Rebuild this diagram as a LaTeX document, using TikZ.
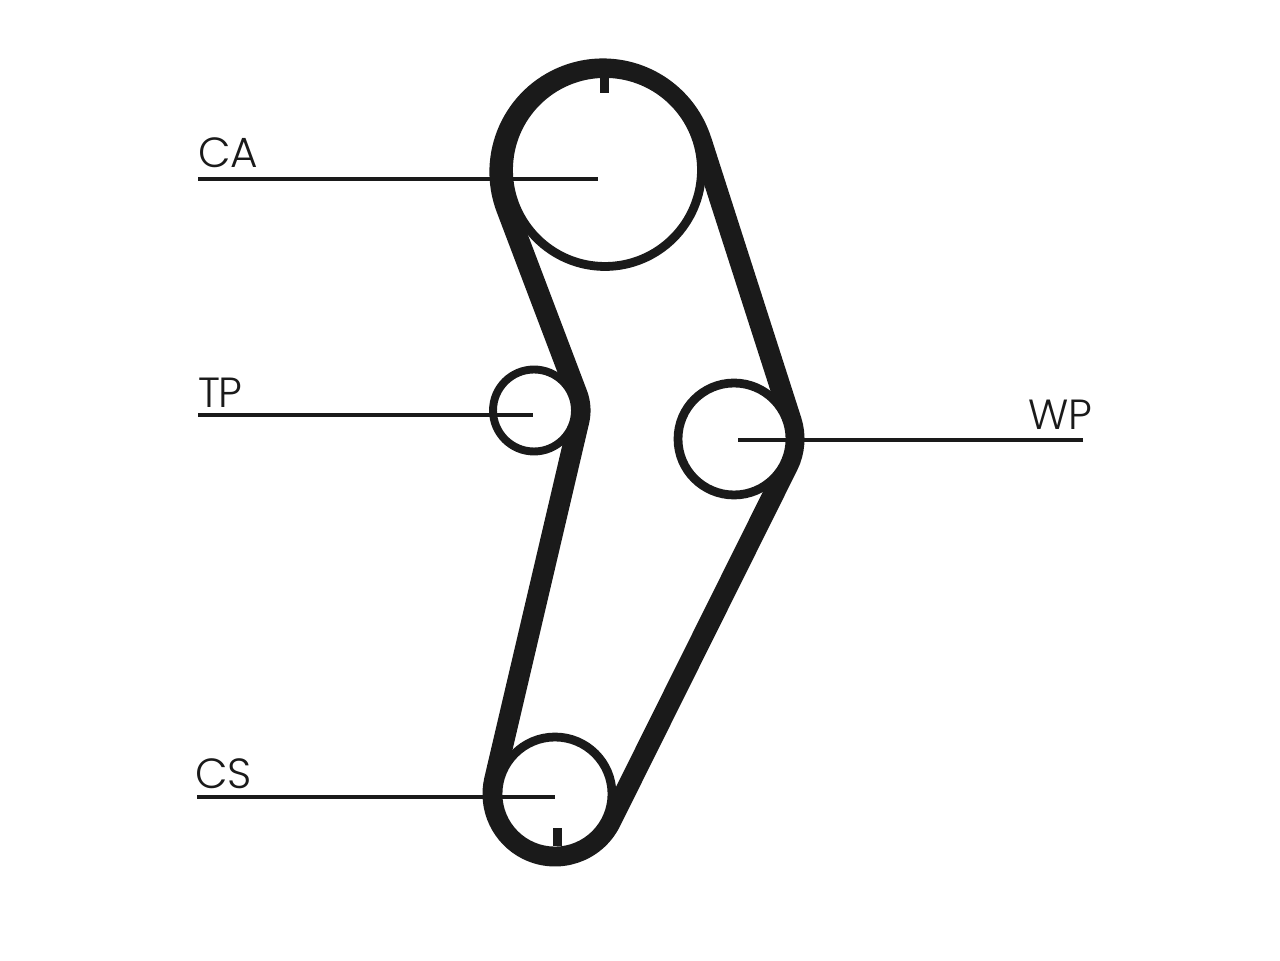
\documentclass[tikz,border=0pt]{standalone}
\usepackage{fontspec}
\setmainfont{Poppins Light}
\definecolor{beltblack}{HTML}{1A1A1A}
\tikzset{
  pulley/.style={draw=beltblack,fill=white,circle,inner sep=0pt,outer sep=0pt,line width=5pt},
  lead/.style={draw=beltblack,line width=2pt},
  tag/.style={anchor=base west,inner sep=0pt,text=beltblack,font=\fontsize{24}{24}\selectfont}
}
\begin{document}
\begin{tikzpicture}[x=0.02cm,y=0.02cm]
\useasboundingbox (0,0) rectangle (1280,960);
% belt
\draw[beltblack,line width=12pt,line join=round]
  (701.1,819.5) -- (791.1,539.4) arc (17.8:-26.5:60)
  -- (610.5,138.4) arc (-26.5:-193.2:62)
  -- (578.8,539) arc (-13.2:21:46)
  -- (506.8,751.1) arc (201:17.8:103) -- cycle;
% pulleys
\node[pulley,minimum size=3.86cm] (CA) at (605,790) {};
\node[pulley,minimum size=1.64cm,line width=4.5pt] (TP) at (534,549.5) {};
\node[pulley,minimum size=2.24cm] (WP) at (734,521) {};
\node[pulley,minimum size=2.28cm] (CS) at (555,166) {};
% timing marks
\fill[beltblack] (599.5,867) rectangle (608.5,885);
\fill[beltblack] (552.5,114) rectangle (561.5,132);
% labels
\coordinate (CAend) at (598,781);
\coordinate (CAfree) at (198,781);
\coordinate (TPend) at (533,545);
\coordinate (TPfree) at (198,545);
\coordinate (WPend) at (738,520);
\coordinate (WPfree) at (1083,520);
\coordinate (CSend) at (555,163);
\coordinate (CSfree) at (197,163);
\draw[lead] (CAfree) -- (CAend);
\draw[lead] (TPfree) -- (TPend);
\draw[lead] (WPfree) -- (WPend);
\draw[lead] (CSfree) -- (CSend);
\node[tag] (CAtag) at (198,792) {CA};
\node[tag] (TPtag) at (198,552) {T\kern-1pt P};
\node[tag] (WPtag) at (1028,530) {WP};
\node[tag] (CStag) at (195,172) {CS};
\end{tikzpicture}
\end{document}
